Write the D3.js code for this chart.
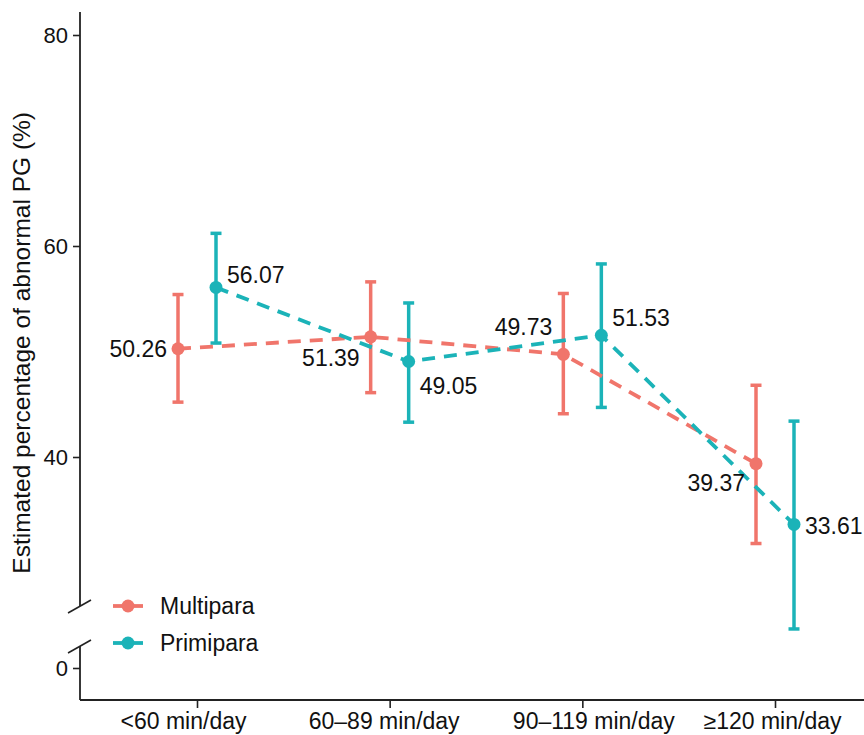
<!DOCTYPE html>
<html>
<head>
<meta charset="utf-8">
<script src="https://cdn.jsdelivr.net/npm/d3@7"></script>
<style>
  html, body { margin: 0; padding: 0; background: #fff; }
  svg { display: block; font-family: "Liberation Sans", Arial, sans-serif; }
</style>
</head>
<body>
<svg id="chart" width="864" height="735"></svg>
<script>
// ---- data ----
const categories = ["<60 min/day", "60\u201389 min/day", "90\u2013119 min/day", "\u2265120 min/day"];
const groups = ["Multipara", "Primipara"];
const multiparaEst = [50.26, 51.39, 49.73, 39.37];
const multiparaLow = [45.2, 46.1, 44.1, 31.8];
const multiparaHigh = [55.4, 56.6, 55.5, 46.8];
const primiparaEst = [56.07, 49.05, 51.53, 33.61];
const primiparaLow = [50.8, 43.3, 44.7, 23.7];
const primiparaHigh = [61.2, 54.6, 58.3, 43.4];
const yTicksUpper = [40, 60, 80];
const yTicksLower = [0];
const colors = ["#F0756B", "#1BB3B8"];
// label placement: side of point and vertical shift
const labelSide = [["left", "right"], ["left", "right"], ["left", "right"], ["left", "right"]];
const labelShift = [[0, -13], [21, 24], [-28, -18], [19, 1]];
const xLabelShift = [-14, -6, 11, -3];

const series = [
  { name: groups[0], est: multiparaEst, low: multiparaLow, high: multiparaHigh, color: colors[0] },
  { name: groups[1], est: primiparaEst, low: primiparaLow, high: primiparaHigh, color: colors[1] }
];

const svg = d3.select("#chart");

// ---- scales ----
const x = d3.scalePoint().domain(categories).range([197, 775]);
const dodge = d3.scalePoint().domain(groups).range([-19, 19]);
const y = d3.scaleLinear().domain([40, 80]).range([457, 35]);
const yLow = d3.scaleLinear().domain([0, 10]).range([668, 562]);

const axisX = 80, axisY = 700;
const font = "Liberation Sans, Arial, sans-serif";

// ---- axes ----
const yAxisUpper = d3.axisLeft(y).tickValues(yTicksUpper).tickSize(7).tickPadding(5).tickFormat(d3.format("d"));
const gU = svg.append("g").attr("transform", `translate(${axisX},0)`).call(yAxisUpper);
gU.select(".domain").remove();
const yAxisLower = d3.axisLeft(yLow).tickValues(yTicksLower).tickSize(7).tickPadding(5);
const gL = svg.append("g").attr("transform", `translate(${axisX},0)`).call(yAxisLower);
gL.select(".domain").remove();
[gU, gL].forEach(g => {
  g.selectAll("line").attr("stroke", "#222").attr("stroke-width", 1.6);
  g.selectAll("text").attr("font-size", 22).attr("font-family", font).attr("fill", "#111");
});
// axis lines with break
svg.append("line").attr("x1", axisX).attr("x2", axisX).attr("y1", 12).attr("y2", 606)
  .attr("stroke", "#222").attr("stroke-width", 1.8);
svg.append("line").attr("x1", axisX).attr("x2", axisX).attr("y1", 646).attr("y2", axisY)
  .attr("stroke", "#222").attr("stroke-width", 1.8);
svg.append("line").attr("x1", 68).attr("x2", 91).attr("y1", 613).attr("y2", 600)
  .attr("stroke", "#222").attr("stroke-width", 1.6);
svg.append("line").attr("x1", 68).attr("x2", 91).attr("y1", 653).attr("y2", 640)
  .attr("stroke", "#222").attr("stroke-width", 1.6);

// x axis
const xAxis = d3.axisBottom(x).tickSize(8).tickPadding(6).tickSizeOuter(0);
const gX = svg.append("g").attr("transform", `translate(0,${axisY})`).call(xAxis);
gX.select(".domain").remove();
svg.append("line").attr("x1", axisX).attr("x2", 864).attr("y1", axisY).attr("y2", axisY)
  .attr("stroke", "#222").attr("stroke-width", 1.8);
gX.selectAll("line").attr("stroke", "#222").attr("stroke-width", 1.6);
gX.selectAll("text")
  .attr("font-size", 23).attr("font-family", font).attr("fill", "#111")
  .attr("y", 29).attr("dy", null)
  .attr("x", (d, i) => xLabelShift[i]);

// y title
svg.append("text")
  .attr("transform", "translate(30,112) rotate(-90)")
  .attr("text-anchor", "end")
  .attr("font-size", 24.5).attr("font-family", font).attr("fill", "#111")
  .text("Estimated percentage of abnormal PG (%)");

// ---- marks ----
series.forEach((s, si) => {
  const g = svg.append("g");
  const px = i => x(categories[i]) + dodge(s.name);
  // error bars
  categories.forEach((c, i) => {
    g.append("line").attr("x1", px(i)).attr("x2", px(i)).attr("y1", y(s.low[i])).attr("y2", y(s.high[i]))
      .attr("stroke", s.color).attr("stroke-width", 3.5);
    [s.low[i], s.high[i]].forEach(v => {
      g.append("line").attr("x1", px(i) - 5.5).attr("x2", px(i) + 5.5).attr("y1", y(v)).attr("y2", y(v))
        .attr("stroke", s.color).attr("stroke-width", 3.5);
    });
  });
});
series.forEach((s, si) => {
  const px = i => x(categories[i]) + dodge(s.name);
  const line = d3.line().x((d, i) => px(i)).y(d => y(d));
  svg.append("path").datum(s.est).attr("d", line).attr("fill", "none")
    .attr("stroke", s.color).attr("stroke-width", 3.8).attr("stroke-dasharray", "13,9");
});
series.forEach((s, si) => {
  const px = i => x(categories[i]) + dodge(s.name);
  s.est.forEach((v, i) => {
    svg.append("circle").attr("cx", px(i)).attr("cy", y(v)).attr("r", 6.5).attr("fill", s.color);
    const side = labelSide[i][si];
    svg.append("text")
      .attr("x", px(i) + (side === "left" ? -11 : 11))
      .attr("y", y(v) + labelShift[i][si])
      .attr("dy", "0.36em")
      .attr("text-anchor", side === "left" ? "end" : "start")
      .attr("font-size", 23).attr("font-family", font).attr("fill", "#111")
      .text(d3.format(".2f")(v));
  });
});

// ---- legend ----
const legendY = [606, 643];
series.forEach((s, si) => {
  const g = svg.append("g").attr("transform", `translate(113,${legendY[si]})`);
  g.append("line").attr("x1", 0).attr("x2", 30).attr("y1", 0).attr("y2", 0)
    .attr("stroke", s.color).attr("stroke-width", 3.8);
  g.append("circle").attr("cx", 15).attr("cy", 0).attr("r", 6.5).attr("fill", s.color);
  g.append("text").attr("x", 47).attr("y", 0).attr("dy", "0.36em")
    .attr("font-size", 23).attr("font-family", font).attr("fill", "#111").text(s.name);
});
</script>
</body>
</html>
